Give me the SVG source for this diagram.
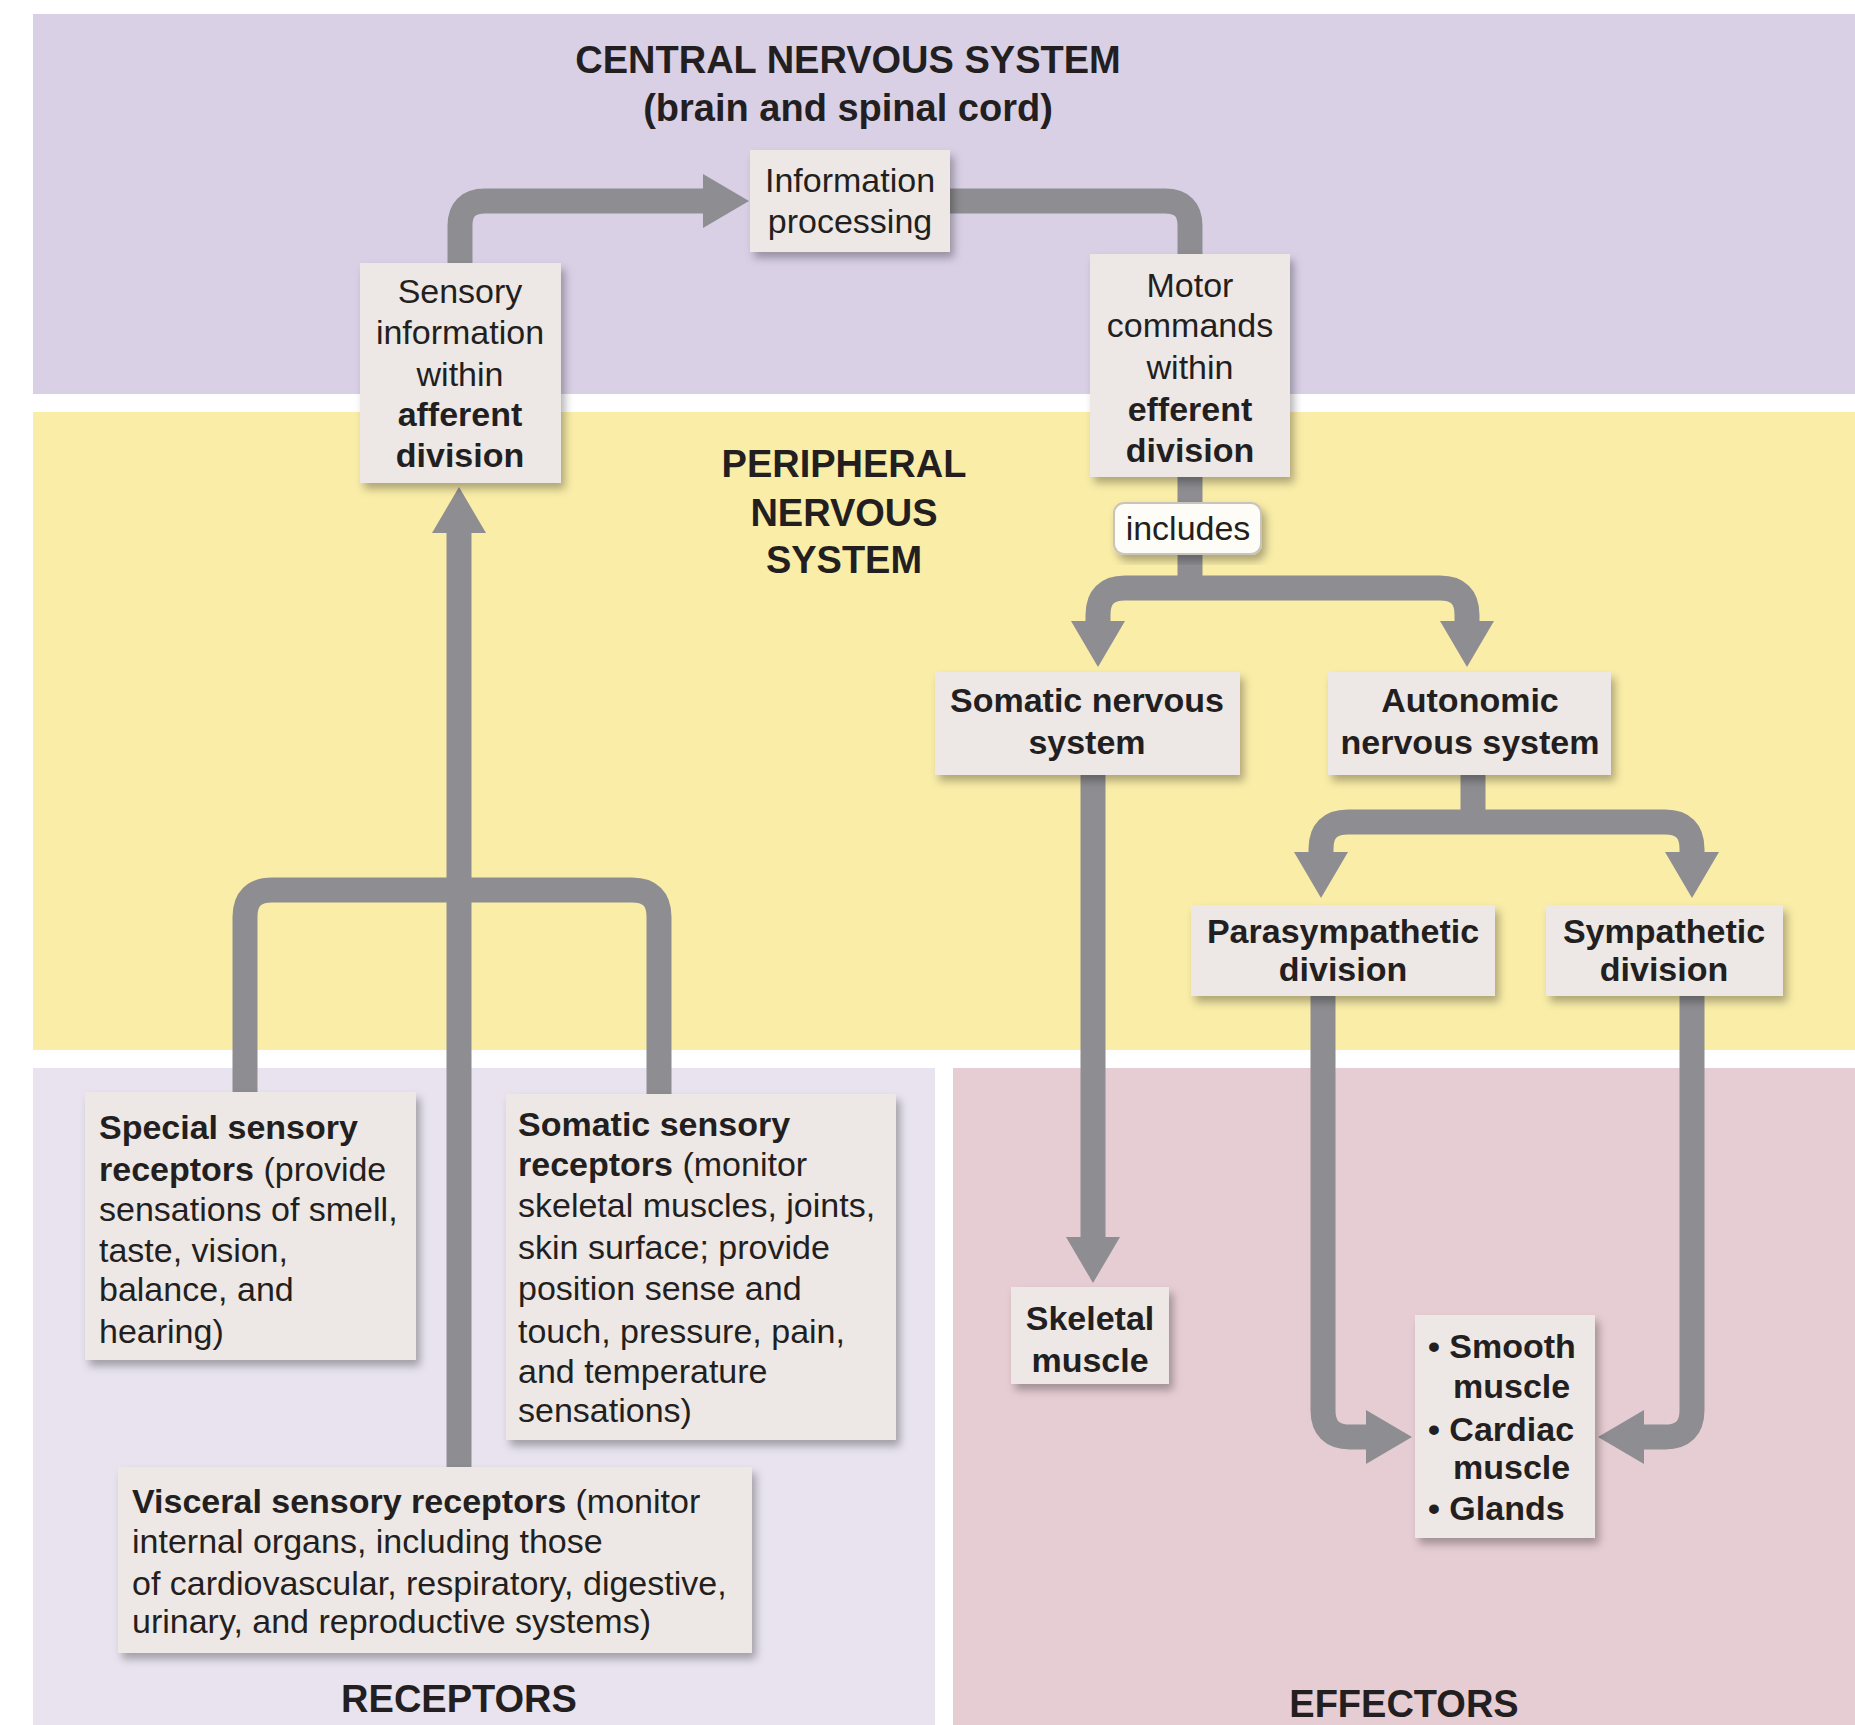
<svg xmlns="http://www.w3.org/2000/svg" width="1855" height="1725" viewBox="0 0 1855 1725">
<defs>
<style>
.t{font-family:"Liberation Sans",Arial,Helvetica,sans-serif;fill:#231f20;}
.title{font-size:38px;font-weight:bold;text-anchor:middle;}
.c{font-size:34px;text-anchor:middle;}
.l{font-size:34px;}
.b{font-weight:bold;}
.box{fill:#ede8e5;filter:url(#sh);}
.conn{fill:none;stroke:#8e8e92;stroke-width:25;stroke-linejoin:round;}
</style>
<filter id="sh" x="-10%" y="-10%" width="130%" height="130%">
<feDropShadow dx="4" dy="6" stdDeviation="4" flood-color="#000" flood-opacity="0.3"/>
</filter>
<marker id="ah" markerUnits="userSpaceOnUse" markerWidth="46" markerHeight="54" viewBox="0 0 46 54" refX="1" refY="27" orient="auto">
<path d="M0,0 L46,27 L0,54 z" fill="#8e8e92"/>
</marker>
</defs>
<rect width="1855" height="1725" fill="#ffffff"/>
<g id="bands">
<rect x="33" y="14" width="1822" height="380" fill="#d9d0e6"/>
<rect x="33" y="412" width="1822" height="638" fill="#faeda8"/>
<rect x="33" y="1068" width="902" height="657" fill="#e8e3ef"/>
<rect x="953" y="1068" width="902" height="657" fill="#e6cdd3"/>
</g>
<g id="labels">
<text class="t title" x="848" y="73">CENTRAL NERVOUS SYSTEM</text>
<text class="t title" x="848" y="121">(brain and spinal cord)</text>
<text class="t title" x="844" y="477">PERIPHERAL</text>
<text class="t title" x="844" y="526">NERVOUS</text>
<text class="t title" x="844" y="573">SYSTEM</text>
<text class="t title" x="459" y="1712">RECEPTORS</text>
<text class="t title" x="1404" y="1717">EFFECTORS</text>
</g>
<g id="connectors">
<path class="conn" d="M460,263 L460,226 Q460,201 485,201 L704,201" marker-end="url(#ah)"/>
<path class="conn" d="M950,201 L1165,201 Q1190,201 1190,226 L1190,256"/>
<path class="conn" d="M1190,477 L1190,590"/>
<path class="conn" d="M1190,588 L1125,588 Q1098,588 1098,615 L1098,622" marker-end="url(#ah)"/>
<path class="conn" d="M1190,588 L1440,588 Q1467,588 1467,615 L1467,622" marker-end="url(#ah)"/>
<path class="conn" d="M1093,775 L1093,1238" marker-end="url(#ah)"/>
<path class="conn" d="M1473,775 L1473,824"/>
<path class="conn" d="M1473,822 L1348,822 Q1321,822 1321,849 L1321,853" marker-end="url(#ah)"/>
<path class="conn" d="M1473,822 L1665,822 Q1692,822 1692,849 L1692,853" marker-end="url(#ah)"/>
<path class="conn" d="M1323,996 L1323,1410 Q1323,1437 1350,1437 L1367,1437" marker-end="url(#ah)"/>
<path class="conn" d="M1692,996 L1692,1410 Q1692,1437 1665,1437 L1643,1437" marker-end="url(#ah)"/>
<path class="conn" d="M459,1467 L459,532" marker-end="url(#ah)"/>
<path class="conn" d="M245,1092 L245,917 Q245,890 272,890 L632,890 Q659,890 659,917 L659,1094"/>
</g>
<g id="info">
<rect class="box" x="750" y="150" width="200" height="102"/>
<text class="t c" x="850" y="192">Information</text>
<text class="t c" x="850" y="233">processing</text>
</g>
<g id="sensory">
<rect class="box" x="360" y="263" width="201" height="220"/>
<text class="t c" x="460" y="303">Sensory</text>
<text class="t c" x="460" y="344">information</text>
<text class="t c" x="460" y="386">within</text>
<text class="t c b" x="460" y="426">afferent</text>
<text class="t c b" x="460" y="467">division</text>
</g>
<g id="motor">
<rect class="box" x="1090" y="254" width="200" height="223"/>
<text class="t c" x="1190" y="297">Motor</text>
<text class="t c" x="1190" y="337">commands</text>
<text class="t c" x="1190" y="379">within</text>
<text class="t c b" x="1190" y="421">efferent</text>
<text class="t c b" x="1190" y="462">division</text>
</g>
<g id="includes">
<rect x="1114" y="503" width="147" height="51" rx="10" fill="#fdfcf6" stroke="#c8c4bc" stroke-width="2" filter="url(#sh)"/>
<text class="t c" x="1188" y="540">includes</text>
</g>
<g id="somatic-ns">
<rect class="box" x="935" y="672" width="305" height="103"/>
<text class="t c b" x="1087" y="712">Somatic nervous</text>
<text class="t c b" x="1087" y="754">system</text>
</g>
<g id="autonomic-ns">
<rect class="box" x="1328" y="672" width="283" height="103"/>
<text class="t c b" x="1470" y="712">Autonomic</text>
<text class="t c b" x="1470" y="754">nervous system</text>
</g>
<g id="parasympathetic">
<rect class="box" x="1191" y="905" width="304" height="91"/>
<text class="t c b" x="1343" y="943">Parasympathetic</text>
<text class="t c b" x="1343" y="981">division</text>
</g>
<g id="sympathetic">
<rect class="box" x="1546" y="905" width="237" height="91"/>
<text class="t c b" x="1664" y="943">Sympathetic</text>
<text class="t c b" x="1664" y="981">division</text>
</g>
<g id="skeletal">
<rect class="box" x="1011" y="1287" width="158" height="97"/>
<text class="t c b" x="1090" y="1330">Skeletal</text>
<text class="t c b" x="1090" y="1372">muscle</text>
</g>
<g id="visceral-effectors">
<rect class="box" x="1415" y="1315" width="180" height="223"/>
<text class="t l b" x="1428" y="1358">• Smooth</text>
<text class="t l b" x="1453" y="1398">muscle</text>
<text class="t l b" x="1428" y="1441">• Cardiac</text>
<text class="t l b" x="1453" y="1479">muscle</text>
<text class="t l b" x="1428" y="1520">• Glands</text>
</g>
<g id="special-sensory">
<rect class="box" x="85" y="1092" width="331" height="268"/>
<text class="t l b" x="99" y="1139">Special sensory</text>
<text class="t l" x="99" y="1181"><tspan class="b">receptors</tspan> (provide</text>
<text class="t l" x="99" y="1221">sensations of smell,</text>
<text class="t l" x="99" y="1262">taste, vision,</text>
<text class="t l" x="99" y="1301">balance, and</text>
<text class="t l" x="99" y="1343">hearing)</text>
</g>
<g id="somatic-sensory">
<rect class="box" x="506" y="1094" width="390" height="346"/>
<text class="t l b" x="518" y="1136">Somatic sensory</text>
<text class="t l" x="518" y="1176"><tspan class="b">receptors</tspan> (monitor</text>
<text class="t l" x="518" y="1217">skeletal muscles, joints,</text>
<text class="t l" x="518" y="1259">skin surface; provide</text>
<text class="t l" x="518" y="1300">position sense and</text>
<text class="t l" x="518" y="1343">touch, pressure, pain,</text>
<text class="t l" x="518" y="1383">and temperature</text>
<text class="t l" x="518" y="1422">sensations)</text>
</g>
<g id="visceral-sensory">
<rect class="box" x="118" y="1467" width="634" height="186"/>
<text class="t l" x="132" y="1513"><tspan class="b">Visceral sensory receptors</tspan> (monitor</text>
<text class="t l" x="132" y="1553">internal organs, including those</text>
<text class="t l" x="132" y="1595">of cardiovascular, respiratory, digestive,</text>
<text class="t l" x="132" y="1633">urinary, and reproductive systems)</text>
</g>
</svg>
